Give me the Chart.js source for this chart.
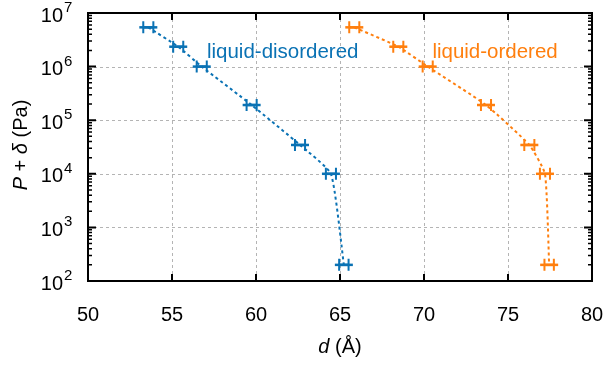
<!DOCTYPE html>
<html>
<head>
<meta charset="utf-8">
<script src="https://cdn.jsdelivr.net/npm/chart.js@4.4.1/dist/chart.umd.min.js"></script>
<style>
html,body{margin:0;padding:0;background:#fff;}
#wrap{width:604px;height:367px;position:relative;}
</style>
</head>
<body>
<div id="wrap"><canvas id="c" width="604" height="367"></canvas></div>
<script>
// ---- data ----
const dDisordered = [53.59, 55.37, 56.77, 59.74, 62.62, 64.46, 65.23];
const pDisordered = [5.4e6, 2.35e6, 1.0e6, 1.92e5, 3.45e4, 1.0e4, 200];
const errDisordered = [0.3, 0.3, 0.3, 0.3, 0.3, 0.3, 0.28];
const dOrdered = [65.85, 68.47, 70.22, 73.69, 76.27, 77.2, 77.45];
const pOrdered = [5.4e6, 2.35e6, 1.0e6, 1.92e5, 3.45e4, 1.0e4, 200];
const errOrdered = [0.3, 0.3, 0.3, 0.3, 0.3, 0.3, 0.28];
const xTicks = [50, 55, 60, 65, 70, 75, 80];
const yExponents = [2, 3, 4, 5, 6, 7];
const seriesNames = ['liquid-disordered', 'liquid-ordered'];
const labelPos = [[57.08, 1.45e6], [70.5, 1.45e6]];

const BLUE = '#0a72b4';
const ORANGE = '#ff7f0e';
const FONT = '"Liberation Sans", Arial, Helvetica, sans-serif';

function pts(xs, ys) { return xs.map((x, i) => ({x: x, y: ys[i]})); }

const frame = {
  id: 'frame',
  beforeDatasetsDraw(chart) {
    const ctx = chart.ctx, a = chart.chartArea;
    const xs = chart.scales.x, ys = chart.scales.y;
    ctx.save();
    ctx.strokeStyle = '#b4b4b4';
    ctx.lineWidth = 1;
    ctx.setLineDash([3, 3]);
    xTicks.forEach(v => {
      if (v === xTicks[0] || v === xTicks[xTicks.length - 1]) return;
      const px = Math.round(xs.getPixelForValue(v)) + 0.5;
      ctx.beginPath(); ctx.moveTo(px, a.top); ctx.lineTo(px, a.bottom); ctx.stroke();
    });
    yExponents.forEach(e => {
      if (e === yExponents[0] || e === yExponents[yExponents.length - 1]) return;
      const py = Math.round(ys.getPixelForValue(Math.pow(10, e))) + 0.5;
      ctx.beginPath(); ctx.moveTo(a.left, py); ctx.lineTo(a.right, py); ctx.stroke();
    });
    ctx.restore();
  },
  afterDatasetsDraw(chart) {
    const ctx = chart.ctx, a = chart.chartArea;
    const xs = chart.scales.x, ys = chart.scales.y;
    // error bar caps
    const sets = [[dDisordered, pDisordered, errDisordered, BLUE], [dOrdered, pOrdered, errOrdered, ORANGE]];
    ctx.save();
    sets.forEach(([dx, py, er, col]) => {
      ctx.strokeStyle = col;
      dx.forEach((d, i) => {
        const y = ys.getPixelForValue(py[i]);
        const x1 = xs.getPixelForValue(d - er[i]);
        const x2 = xs.getPixelForValue(d + er[i]);
        ctx.lineWidth = 2.5;
        ctx.beginPath();
        ctx.moveTo(x1, y); ctx.lineTo(x2, y);
        ctx.stroke();
        ctx.lineWidth = 2;
        ctx.beginPath();
        ctx.moveTo(x1, y - 6); ctx.lineTo(x1, y + 6);
        ctx.moveTo(x2, y - 6); ctx.lineTo(x2, y + 6);
        ctx.stroke();
      });
    });
    // frame
    ctx.strokeStyle = '#000';
    ctx.lineWidth = 2;
    ctx.strokeRect(a.left, a.top, a.right - a.left, a.bottom - a.top);
    // x ticks
    ctx.lineWidth = 2;
    xTicks.forEach(v => {
      const px = xs.getPixelForValue(v);
      ctx.beginPath();
      ctx.moveTo(px, a.bottom); ctx.lineTo(px, a.bottom - 7);
      ctx.moveTo(px, a.top); ctx.lineTo(px, a.top + 7);
      ctx.stroke();
    });
    // y ticks major + minor
    yExponents.forEach((e, k) => {
      const py = ys.getPixelForValue(Math.pow(10, e));
      ctx.lineWidth = 2;
      ctx.beginPath();
      ctx.moveTo(a.left, py); ctx.lineTo(a.left + 8, py);
      ctx.moveTo(a.right, py); ctx.lineTo(a.right - 8, py);
      ctx.stroke();
      if (k < yExponents.length - 1) {
        ctx.lineWidth = 1.5;
        for (let m = 2; m <= 9; m++) {
          const pm = ys.getPixelForValue(m * Math.pow(10, e));
          ctx.beginPath();
          ctx.moveTo(a.left, pm); ctx.lineTo(a.left + 4, pm);
          ctx.moveTo(a.right, pm); ctx.lineTo(a.right - 4, pm);
          ctx.stroke();
        }
      }
    });
    // y tick labels 10^n
    ctx.fillStyle = '#000';
    yExponents.forEach(e => {
      const py = ys.getPixelForValue(Math.pow(10, e));
      ctx.font = '20px ' + FONT;
      ctx.textAlign = 'right';
      ctx.textBaseline = 'alphabetic';
      ctx.fillText('10', 63, py + 8.5);
      ctx.font = '15px ' + FONT;
      ctx.textAlign = 'left';
      ctx.fillText(String(e), 64, py - 1);
    });
    // series labels
    ctx.font = '20.5px ' + FONT;
    ctx.textAlign = 'left';
    ctx.textBaseline = 'alphabetic';
    [BLUE, ORANGE].forEach((col, i) => {
      ctx.fillStyle = col;
      ctx.fillText(seriesNames[i], xs.getPixelForValue(labelPos[i][0]), ys.getPixelForValue(labelPos[i][1]));
    });
    // x title: d (Å)
    ctx.fillStyle = '#000';
    drawParts(ctx, [['italic ', 'd'], ['', ' (Å)']], (a.left + a.right) / 2, 353);
    // y title
    ctx.save();
    ctx.translate(27, 145);
    ctx.rotate(-Math.PI / 2);
    drawParts(ctx, [['italic ', 'P'], ['', ' + '], ['italic ', 'δ'], ['', ' (Pa)']], 0, 0);
    ctx.restore();
    ctx.restore();
  }
};

function drawParts(ctx, parts, cx, baseline) {
  let total = 0;
  parts.forEach(p => { ctx.font = p[0] + '20px ' + FONT; total += ctx.measureText(p[1]).width; });
  let x = cx - total / 2;
  ctx.textAlign = 'left';
  ctx.textBaseline = 'alphabetic';
  parts.forEach(p => {
    ctx.font = p[0] + '20px ' + FONT;
    ctx.fillText(p[1], x, baseline);
    x += ctx.measureText(p[1]).width;
  });
}

new Chart(document.getElementById('c'), {
  type: 'line',
  data: {
    datasets: [
      {label: seriesNames[0], data: pts(dDisordered, pDisordered), borderColor: BLUE, backgroundColor: BLUE,
       borderWidth: 2, borderDash: [3, 3], pointStyle: 'line', pointRadius: 9, pointBorderWidth: 2.5,
       pointBorderColor: BLUE, tension: 0.15},
      {label: seriesNames[1], data: pts(dOrdered, pOrdered), borderColor: ORANGE, backgroundColor: ORANGE,
       borderWidth: 2, borderDash: [3, 3], pointStyle: 'line', pointRadius: 9, pointBorderWidth: 2.5,
       pointBorderColor: ORANGE, tension: 0.15}
    ]
  },
  options: {
    responsive: false,
    animation: false,
    events: [],
    layout: {padding: {left: 0, right: 12, top: 13, bottom: 0}},
    plugins: {legend: {display: false}, tooltip: {enabled: false}},
    scales: {
      x: {
        type: 'linear', min: 50, max: 80,
        afterBuildTicks: s => { s.ticks = xTicks.map(v => ({value: v})); },
        afterFit: s => { s.height = 86; s.paddingLeft = 0; s.paddingRight = 0; },
        grid: {display: false, drawTicks: false},
        border: {display: false},
        ticks: {color: '#000', font: {family: FONT, size: 20}, padding: 22, maxRotation: 0, autoSkip: false}
      },
      y: {
        type: 'logarithmic', min: 100, max: 1e7,
        afterBuildTicks: s => { s.ticks = yExponents.map(e => ({value: Math.pow(10, e)})); },
        afterFit: s => { s.width = 88; s.paddingTop = 0; s.paddingBottom = 0; },
        grid: {display: false, drawTicks: false},
        border: {display: false},
        ticks: {display: false}
      }
    }
  },
  plugins: [frame]
});
</script>
</body>
</html>
